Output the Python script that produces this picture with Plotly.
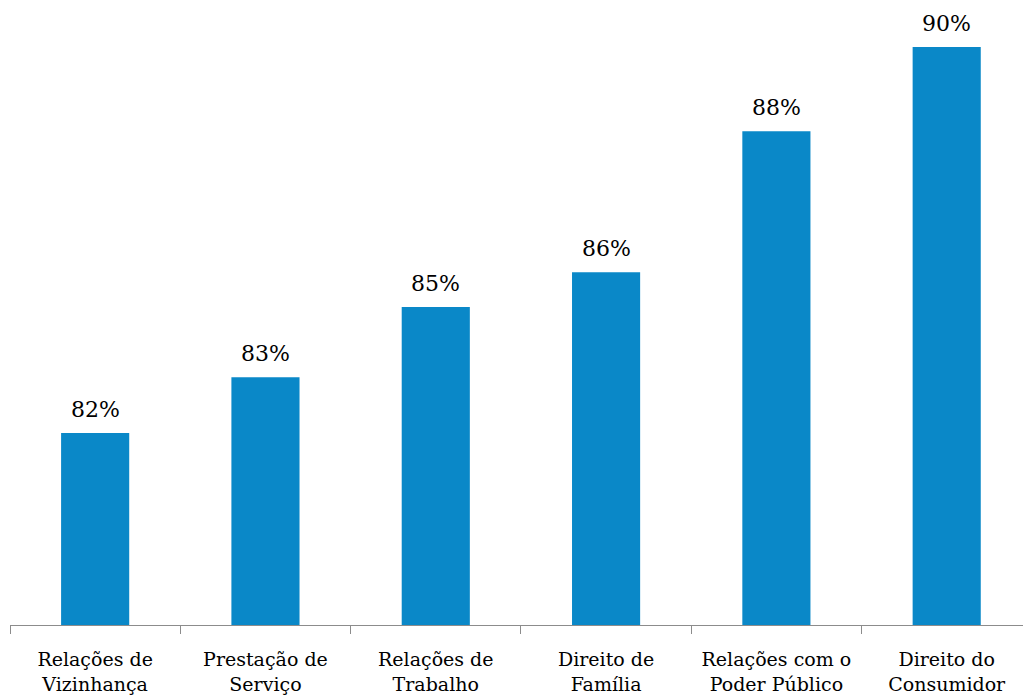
import plotly.graph_objects as go

categories = [
    "Relações de<br>Vizinhança",
    "Prestação de<br>Serviço",
    "Relações de<br>Trabalho",
    "Direito de<br>Família",
    "Relações com o<br>Poder Público",
    "Direito do<br>Consumidor",
]
values = [82.28, 83.42, 84.85, 85.56, 88.44, 90.16]

BAR_COLOR = "#0A88C8"
FONT = "DejaVu Serif"

fig = go.Figure(
    go.Bar(
        x=categories,
        y=values,
        width=0.4,
        marker=dict(color=BAR_COLOR, line=dict(width=0)),
        hoverinfo="x+y",
    )
)

# value labels sitting a little above each bar
for cat, val in zip(categories, values):
    fig.add_annotation(
        x=cat,
        y=val,
        text=f"{val:.0f}%",
        showarrow=False,
        yanchor="bottom",
        yshift=9,
        font=dict(family=FONT, size=22, color="#000000"),
    )

fig.update_layout(
    width=1023,
    height=700,
    margin=dict(l=10, r=0, t=0, b=75),
    paper_bgcolor="white",
    plot_bgcolor="white",
    showlegend=False,
    bargap=0.6,
    xaxis=dict(
        range=[-0.5, 5.448],
        showline=True,
        linecolor="#8C8C8C",
        linewidth=1,
        ticks="outside",
        tickson="boundaries",
        ticklen=8,
        tickcolor="#8C8C8C",
        ticklabelstandoff=17,
        showgrid=False,
        tickfont=dict(family=FONT, size=19, color="#000000"),
    ),
    yaxis=dict(
        range=[78.36, 91.12],
        visible=False,
        showgrid=False,
        zeroline=False,
    ),
)

fig.write_html("out.html")
